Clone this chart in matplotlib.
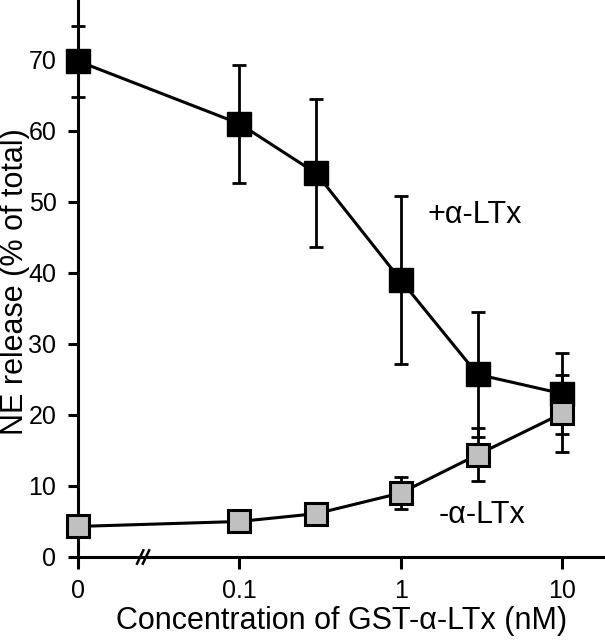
import matplotlib
matplotlib.use("Agg")
import matplotlib.pyplot as plt

plt.rcParams['font.family'] = ['Liberation Sans', 'DejaVu Sans']

# concentrations (nM); 0 is drawn at 0.01 on the log axis (axis break)
conc = [0.01, 0.1, 0.3, 1, 3, 10]
tick_pos = [0.01, 0.1, 1, 10]
tick_labels = ["0", "0.1", "1", "10"]

# +alpha-LTx
plus_mean = [69.8, 61.0, 54.0, 39.0, 25.7, 23.0]
plus_err = [5.0, 8.3, 10.4, 11.8, 8.8, 5.7]

# -alpha-LTx
minus_mean = [4.3, 5.0, 6.1, 9.0, 14.4, 20.2]
minus_err = [0.0, 0.0, 0.0, 2.3, 3.7, 5.4]

fig = plt.figure(figsize=(6.05, 6.4), dpi=100)
ax = fig.add_axes([78 / 605, 83 / 640, 1 - 78 / 605, 1 - 83 / 640])

eb = ax.errorbar(conc, plus_mean, yerr=plus_err, fmt='none', ecolor='black',
                 elinewidth=2, capsize=5, capthick=2, zorder=2)
ax.plot(conc, plus_mean, '-s', color='black', lw=2.2, ms=17,
        mfc='black', mec='black', zorder=3, clip_on=False)

eb2 = ax.errorbar(conc[3:], minus_mean[3:], yerr=minus_err[3:], fmt='none',
                  ecolor='black', elinewidth=2, capsize=5, capthick=2, zorder=4)
ax.plot(conc, minus_mean, '-s', color='black', lw=2.2, ms=16,
        mfc='#c0c0c0', mec='black', mew=2.2, zorder=5, clip_on=False)

for c in eb.lines[1] + eb.lines[2] + eb2.lines[1] + eb2.lines[2]:
    c.set_clip_on(False)

ax.set_xscale('log')
ax.set_xlim(0.01, 18.5)
ax.set_ylim(0, 78.4)
ax.set_xticks(tick_pos)
ax.set_xticklabels(tick_labels)
ax.minorticks_off()
ax.set_yticks(range(0, 80, 10))

for s in ('top', 'right'):
    ax.spines[s].set_visible(False)
for s in ('left', 'bottom'):
    ax.spines[s].set_linewidth(2.2)
ax.tick_params(axis='y', direction='out', width=2.2, length=7.5,
               labelsize=18, pad=8)
ax.tick_params(axis='x', direction='out', width=2.2, length=8.6,
               labelsize=18, pad=7)

# axis break marks on the x axis
for dx in (0, 0.011):
    ax.plot([0.112 + dx, 0.124 + dx], [-0.012, 0.012], transform=ax.transAxes,
            color='black', lw=1.8, clip_on=False, zorder=6)

ax.set_xlabel("Concentration of GST-α-LTx (nM)", fontsize=22, va='center')
ax.set_ylabel("NE release (% of total)", fontsize=22, va='center')
ax.xaxis.set_label_coords(0.5, -0.115)
ax.yaxis.set_label_coords(-0.12, 0.494)

ax.text(1.47, 48.2, "+α-LTx", fontsize=22, ha='left', va='center')
ax.text(1.72, 5.9, "-α-LTx", fontsize=22, ha='left', va='center')

fig.savefig("out.png", dpi=100)
